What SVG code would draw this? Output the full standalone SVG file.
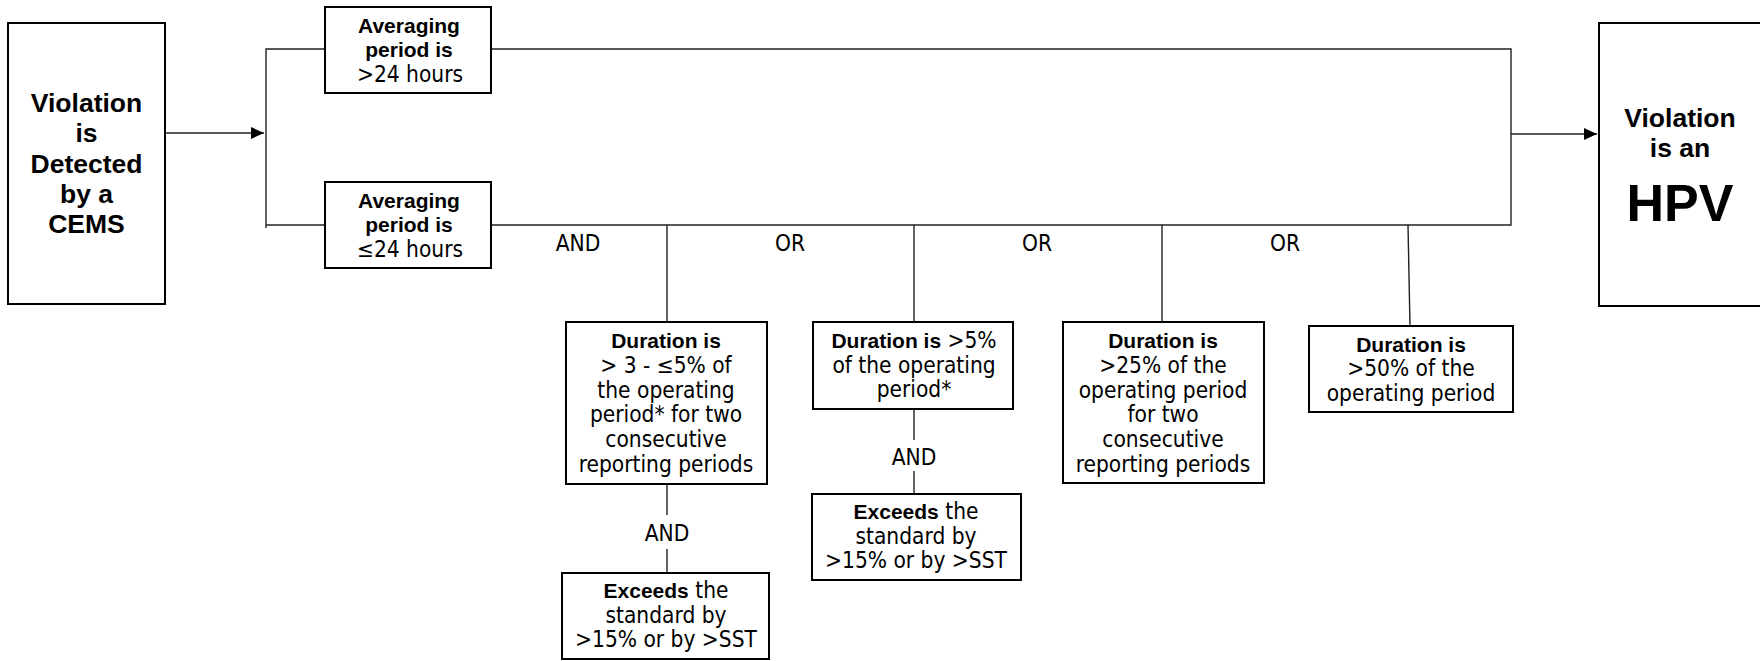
<svg xmlns="http://www.w3.org/2000/svg" width="1760" height="661" viewBox="0 0 1760 661">
<style>
.box{fill:#fff;stroke:#000;stroke-width:2}
.ln{fill:none;stroke:#222;stroke-width:1.4}
.t{font-family:"DejaVu Sans Condensed","DejaVu Sans",Verdana,sans-serif;font-stretch:condensed;font-size:22.5px;fill:#000;text-anchor:middle}
.b{font-family:"Liberation Sans",Arial,sans-serif;font-weight:bold;font-size:21px;font-stretch:normal}
.big{font-family:"Liberation Sans",Arial,sans-serif;font-weight:bold;font-size:26.5px;fill:#000;text-anchor:middle}
.hpv{font-size:52px}
</style>
<defs>
<marker id="arr" viewBox="0 0 13 12" refX="13" refY="6" markerWidth="13" markerHeight="12" markerUnits="userSpaceOnUse" orient="auto">
<path d="M0,0 L13,6 L0,12 Z" fill="#000"/>
</marker>
</defs>
<g id="connectors">
<line class="ln" x1="165" y1="133" x2="264" y2="133" marker-end="url(#arr)"/>
<polyline class="ln" points="325,49 266,49 266,228"/>
<line class="ln" x1="266" y1="225" x2="325" y2="225"/>
<polyline class="ln" points="491,49 1511,49 1511,225 491,225"/>
<line class="ln" x1="1511" y1="134" x2="1597" y2="134" marker-end="url(#arr)"/>
<line class="ln" x1="667" y1="225" x2="667" y2="322"/>
<line class="ln" x1="914" y1="225" x2="914" y2="322"/>
<line class="ln" x1="1162" y1="225" x2="1162" y2="322"/>
<line class="ln" x1="1408" y1="225" x2="1410" y2="326"/>
<line class="ln" x1="667" y1="484" x2="667" y2="515"/>
<line class="ln" x1="667" y1="549" x2="667" y2="573"/>
<line class="ln" x1="914" y1="409" x2="914" y2="440"/>
<line class="ln" x1="914" y1="471" x2="914" y2="494"/>
<text class="t" x="578" y="251">AND</text>
<text class="t" x="790" y="251">OR</text>
<text class="t" x="1037" y="251">OR</text>
<text class="t" x="1285" y="251">OR</text>
<text class="t" x="667" y="541">AND</text>
<text class="t" x="914" y="465">AND</text>
</g>
<g id="start">
<rect class="box" x="8" y="23" width="157" height="281"/>
<text class="big" x="86.5" y="112">Violation</text>
<text class="big" x="86.5" y="142">is</text>
<text class="big" x="86.5" y="173">Detected</text>
<text class="big" x="86.5" y="203">by a</text>
<text class="big" x="86.5" y="233">CEMS</text>
</g>
<g id="avg-gt24">
<rect class="box" x="325" y="7" width="166" height="86"/>
<text class="t" x="409" y="33"><tspan class="b">Averaging</tspan></text>
<text class="t" x="409" y="57"><tspan class="b">period is</tspan></text>
<text class="t" x="410" y="82">&gt;24 hours</text>
</g>
<g id="avg-le24">
<rect class="box" x="325" y="182" width="166" height="86"/>
<text class="t" x="409" y="208"><tspan class="b">Averaging</tspan></text>
<text class="t" x="409" y="232"><tspan class="b">period is</tspan></text>
<text class="t" x="410" y="257">≤24 hours</text>
</g>
<g id="dur-3-5">
<rect class="box" x="566" y="322" width="201" height="162"/>
<text class="t" x="666" y="348"><tspan class="b">Duration is</tspan></text>
<text class="t" x="666" y="373">&gt; 3 - ≤5% of</text>
<text class="t" x="666" y="398">the operating</text>
<text class="t" x="666" y="422">period* for two</text>
<text class="t" x="666" y="447">consecutive</text>
<text class="t" x="666" y="472">reporting periods</text>
</g>
<g id="exceeds-1">
<rect class="box" x="562" y="573" width="207" height="86"/>
<text class="t" x="666" y="598"><tspan class="b">Exceeds</tspan> the</text>
<text class="t" x="666" y="623">standard by</text>
<text class="t" x="666" y="647">&gt;15% or by &gt;SST</text>
</g>
<g id="dur-5">
<rect class="box" x="813" y="322" width="200" height="87"/>
<text class="t" x="914" y="348"><tspan class="b">Duration is</tspan> &gt;5%</text>
<text class="t" x="914" y="373">of the operating</text>
<text class="t" x="914" y="397">period*</text>
</g>
<g id="exceeds-2">
<rect class="box" x="812" y="494" width="209" height="86"/>
<text class="t" x="916" y="519"><tspan class="b">Exceeds</tspan> the</text>
<text class="t" x="916" y="544">standard by</text>
<text class="t" x="916" y="568">&gt;15% or by &gt;SST</text>
</g>
<g id="dur-25">
<rect class="box" x="1063" y="322" width="201" height="161"/>
<text class="t" x="1163" y="348"><tspan class="b">Duration is</tspan></text>
<text class="t" x="1163" y="373">&gt;25% of the</text>
<text class="t" x="1163" y="398">operating period</text>
<text class="t" x="1163" y="422">for two</text>
<text class="t" x="1163" y="447">consecutive</text>
<text class="t" x="1163" y="472">reporting periods</text>
</g>
<g id="dur-50">
<rect class="box" x="1309" y="326" width="204" height="86"/>
<text class="t" x="1411" y="352"><tspan class="b">Duration is</tspan></text>
<text class="t" x="1411" y="376">&gt;50% of the</text>
<text class="t" x="1411" y="401">operating period</text>
</g>
<g id="hpv">
<rect class="box" x="1599" y="23" width="163" height="283"/>
<text class="big" x="1680" y="127">Violation</text>
<text class="big" x="1680" y="157">is an</text>
<text class="big hpv" x="1680" y="221">HPV</text>
</g>
</svg>
